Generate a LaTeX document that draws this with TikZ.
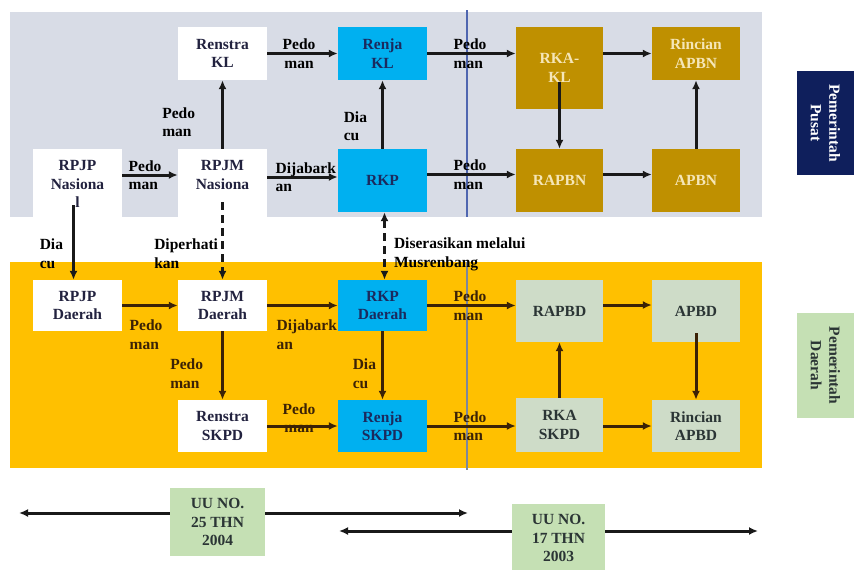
\documentclass[tikz,border=0pt]{standalone}
\usepackage{fontspec}
\setmainfont{Liberation Serif}
\usetikzlibrary{arrows.meta}
\definecolor{panelgray}{HTML}{D8DCE6}
\definecolor{panelorange}{HTML}{FFC000}
\definecolor{boxblue}{HTML}{00B0F0}
\definecolor{boxgold}{HTML}{BF9000}
\definecolor{boxgreen}{HTML}{CEDCC8}
\definecolor{lightgreen}{HTML}{C5E0B4}
\definecolor{navybox}{HTML}{0F1F5C}
\definecolor{brownline}{HTML}{3B2206}
\definecolor{divlineA}{HTML}{4F66B0}
\definecolor{divlineB}{HTML}{7E879C}
\definecolor{textdark}{HTML}{22223F}
\definecolor{textnavy}{HTML}{1B2A5E}
\definecolor{textgold}{HTML}{F5E6B8}
\definecolor{textslate}{HTML}{2B3535}
\begin{document}
\begin{tikzpicture}[x=1pt,y=-1pt,
  every node/.style={font=\bfseries\fontsize{15.5}{18.5}\selectfont, inner sep=0pt, align=center},
  >={Latex[length=9pt,width=8pt]},
  bx/.style={minimum width=89pt, minimum height=53pt},
  wbox/.style={bx, fill=white, text=textdark},
  bbox/.style={bx, fill=boxblue, text=textnavy},
  gbox/.style={bx, fill=boxgold, text=textgold},
  grbox/.style={bx, fill=boxgreen, text=textslate},
  uubox/.style={fill=lightgreen, text=textslate, minimum width=95pt, minimum height=68pt},
  arr/.style={->, line width=3pt, draw=black!90},
  barr/.style={->, line width=3pt, draw=brownline},
  lab/.style={align=left, text=black},
  blab/.style={align=left, text=brownline},
  dsh/.style={dash pattern=on 8pt off 5pt}
]
\useasboundingbox (0,0) rectangle (854,570);
% panels
\fill[panelgray] (10,12) rectangle (762,217);
\fill[panelorange] (10,262) rectangle (762,468);
% divider
\draw[divlineA, line width=1.5pt] (467,10) -- (467,217);
\draw[divlineB, line width=1.5pt] (467,262) -- (467,470);

% top row nodes
\node[wbox] (renstrakl) at (222.5,53.5) {Renstra\\KL};
\node[bbox] (renjakl) at (382.5,53.5) {Renja\\KL};
\node[gbox, minimum width=87pt, minimum height=82pt] (rkakl) at (559.5,68) {RKA-\\KL};
\node[gbox, minimum width=88pt] (rincianapbn) at (696,53.5) {Rincian\\APBN};
\node[wbox, minimum height=70pt] (rpjpnas) at (77.5,184) {RPJP\\Nasiona\\l};
\node[wbox, minimum height=70pt] (rpjmnas) at (222.5,184) {RPJM\\Nasiona\\\mbox{}};
\node[bbox, minimum height=63pt] (rkp) at (382.5,180.5) {RKP};
\node[gbox, minimum width=87pt, minimum height=63pt] (rapbn) at (559.5,180.5) {RAPBN};
\node[gbox, minimum width=88pt, minimum height=63pt] (apbn) at (696,180.5) {APBN};
\node[fill=navybox, text=white, minimum width=104pt, minimum height=57pt, rotate=-90] (pusat) at (825.5,123) {Pemerintah\\Pusat};

% bottom nodes
\node[wbox, minimum height=51pt] (rpjpd) at (77.5,305.5) {RPJP\\Daerah};
\node[wbox, minimum height=51pt] (rpjmd) at (222.5,305.5) {RPJM\\Daerah};
\node[bbox, minimum height=51pt] (rkpd) at (382.5,305.5) {RKP\\Daerah};
\node[wbox, minimum height=52pt] (renstraskpd) at (222.5,426) {Renstra\\SKPD};
\node[bbox, minimum height=52pt] (renjaskpd) at (382.5,426) {Renja\\SKPD};
\node[grbox, minimum width=87pt, minimum height=62pt] (rapbd) at (559.5,311) {RAPBD};
\node[grbox, minimum width=88pt, minimum height=62pt] (apbd) at (696,311) {APBD};
\node[grbox, minimum width=87pt, minimum height=54pt] (rkaskpd) at (559.5,425) {RKA\\SKPD};
\node[grbox, minimum width=88pt, minimum height=52pt] (rincianapbd) at (696,426) {Rincian\\APBD};
\node[fill=lightgreen, text=textslate, minimum width=105pt, minimum height=57pt, rotate=-90] (daerah) at (825.5,365.5) {Pemerintah\\Daerah};

% UU boxes
\node[uubox] (uu25) at (217.5,522) {UU NO.\\25 THN\\2004};
\node[uubox, minimum width=93pt, minimum height=69pt] (uu17) at (558.5,538) {UU NO.\\17 THN\\2003};
\coordinate (uuA) at (19,513);
\coordinate (uuB) at (468,513);
\coordinate (uuC) at (339,531);
\coordinate (uuD) at (758,531);

% top edges
\draw[arr] (renstrakl) -- node[lab, align=center, anchor=west, pos=0, xshift=14pt] {Pedo\\man} (renjakl);
\draw[arr] ([yshift=9pt]rpjpnas.east) -- node[lab, anchor=west, pos=0, xshift=5pt] {Pedo\\man} ([yshift=9pt]rpjmnas.west);
\draw[arr] ([yshift=7pt]rpjmnas.east) -- node[lab, anchor=west, pos=0, xshift=7pt] {Dijabark\\an} ([yshift=3.5pt]rkp.west);
\draw[arr] (rpjmnas.north) -- node[lab, anchor=east, pos=0.39, xshift=-26pt] {Pedo\\man} (renstrakl.south);
\draw[arr] (rkp.north) -- node[lab, anchor=east, pos=0.33, xshift=-14pt] {Dia\\cu} (renjakl.south);
\draw[arr] (renjakl) -- node[lab, anchor=west, pos=0, xshift=25pt] {Pedo\\man} (rkakl.west |- renjakl);
\draw[arr] ([yshift=6pt]rkp.east) -- node[lab, anchor=west, pos=0, xshift=25pt] {Pedo\\man} ([yshift=6pt]rapbn.west);
\draw[arr] (rkakl.east |- rincianapbn) -- (rincianapbn);
\draw[arr] ([yshift=-14pt]rkakl.center) -- (rapbn.north);
\draw[arr] ([yshift=6pt]rapbn.east) -- ([yshift=6pt]apbn.west);
\draw[arr] (apbn.north) -- (rincianapbn.south);

% between panels
\draw[arr, shorten <=-14pt] ([xshift=-4pt]rpjpnas.south) -- node[lab, anchor=east, pos=0.57, xshift=-9pt] {Dia\\cu} ([xshift=-4pt]rpjpd.north);
\draw[arr, dsh, shorten <=-17pt] (rpjmnas.south) -- node[lab, anchor=east, pos=0.57, xshift=-3pt] {Diperhati\\kan} (rpjmd.north);
\draw[arr, dsh, <->] ([xshift=2pt]rkp.south) -- node[lab, anchor=west, pos=0.62, xshift=8pt] {Diserasikan melalui\\Musrenbang} ([xshift=2pt]rkpd.north);

% bottom edges
\draw[barr] (rpjpd) -- node[blab, anchor=north west, pos=0, xshift=6pt, yshift=-13pt] {Pedo\\man} (rpjmd);
\draw[barr] (rpjmd) -- node[blab, anchor=north west, pos=0, xshift=8pt, yshift=-13pt] {Dijabark\\an} (rkpd);
\draw[barr] (rpjmd) -- node[blab, anchor=east, pos=0.62, xshift=-18pt] {Pedo\\man} (renstraskpd);
\draw[barr] (rkpd) -- node[blab, anchor=east, pos=0.62, xshift=-5pt] {Dia\\cu} (renjaskpd);
\draw[barr] (renstraskpd) -- node[blab, align=center, anchor=west, pos=0, xshift=14pt, yshift=8pt] {Pedo\\man} (renjaskpd);
\draw[barr] (rkpd) -- node[blab, anchor=west, pos=0, xshift=25pt] {Pedo\\man} (rkpd -| rapbd.west);
\draw[barr] (renjaskpd) -- node[blab, anchor=west, pos=0, xshift=25pt] {Pedo\\man} (renjaskpd -| rkaskpd.west);
\draw[barr] ([yshift=6pt]rapbd.east) -- ([yshift=6pt]apbd.west);
\draw[barr] (rkaskpd.north) -- (rapbd.south);
\draw[barr, shorten <=-9pt] (apbd.south) -- (rincianapbd.north);
\draw[barr] (rkaskpd.east |- rincianapbd) -- (rincianapbd.west);

% UU arrows
\draw[arr] (uu25.west |- uuA) -- (uuA);
\draw[arr] (uu25.east |- uuB) -- (uuB);
\draw[arr] (uu17.west |- uuC) -- (uuC);
\draw[arr] (uu17.east |- uuD) -- (uuD);
\end{tikzpicture}
\end{document}
